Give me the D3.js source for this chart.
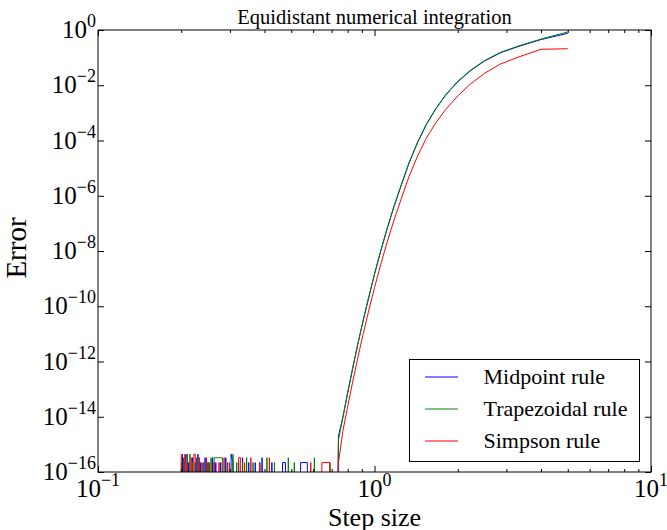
<!DOCTYPE html>
<html>
<head>
<meta charset="utf-8">
<script src="https://cdn.jsdelivr.net/npm/d3@7"></script>
<style>
  body { margin: 0; background: #fff; }
  text { font-family: "Liberation Serif", "DejaVu Serif", serif; fill: #000; }
</style>
</head>
<body>
<svg id="chart" width="667" height="530"></svg>
<script>
// step sizes, from the coarsest noise floor (0.2) up to 5
const stepSizes = [
  0.2, 0.2020, 0.2041, 0.2062, 0.2083, 0.2105, 0.2128, 0.2151, 0.2174, 0.2198,
  0.2222, 0.2247, 0.2273, 0.2299, 0.2326, 0.2353, 0.2381, 0.2410, 0.2439, 0.2469,
  0.25, 0.2532, 0.2564, 0.2597, 0.2632, 0.2667, 0.2703, 0.2740, 0.2778, 0.2817,
  0.2857, 0.2899, 0.2941, 0.2985, 0.3030, 0.3077, 0.3125, 0.3175, 0.3226, 0.3279,
  0.3333, 0.3390, 0.3448, 0.3509, 0.3571, 0.3636, 0.3704, 0.3774, 0.3846, 0.3922,
  0.4, 0.4082, 0.4167, 0.4255, 0.4348, 0.4444, 0.4545, 0.4651, 0.4762, 0.4878,
  0.5, 0.5128, 0.5263, 0.5405, 0.5556, 0.5714, 0.5882, 0.6061, 0.625, 0.6452,
  0.6667, 0.6897, 0.7143,
  0.7407, 0.7692, 0.8, 0.8333, 0.8696, 0.9091, 0.9524, 1.0, 1.0526, 1.1111,
  1.1765, 1.25, 1.3333, 1.4286, 1.5385, 1.6667, 1.8182, 2.0, 2.2222, 2.5,
  2.8571, 3.3333, 4.0, 5.0
];

const midpointErr = [
  0, 4.4e-16, 0, 2.2e-16, 4.4e-16, 0, 2.2e-16, 0, 0, 3.3e-16,
  0, 2.2e-16, 0, 4.4e-16, 0, 2.2e-16, 0, 0, 3.3e-16, 0,
  2.2e-16, 0, 0, 3.3e-16, 0, 2.2e-16, 0, 0, 2.2e-16, 0,
  0, 3.3e-16, 0, 0, 4.4e-16, 2.2e-16, 0, 0, 2.2e-16, 0,
  3.3e-16, 0, 0, 2.2e-16, 0, 0, 2.2e-16, 0, 0, 3.3e-16,
  0, 0, 0, 2.2e-16, 0, 0, 0, 2.2e-16, 2.2e-16, 0,
  0, 0, 0, 2.2e-16, 2.2e-16, 2.2e-16, 0, 0, 0, 0,
  0, 0, 0,
  2.0e-15, 9.9e-15, 7.4e-14, 5.4e-13, 4.1e-12, 2.9e-11, 2.0e-10, 1.44e-9, 9.7e-9, 6.4e-8,
  4.1e-7, 2.4e-6, 1.53e-5, 8.1e-5, 3.7e-4, 1.41e-3, 4.65e-3, 1.34e-2, 3.37e-2, 7.55e-2,
  0.150, 0.258, 0.45, 0.76
];

const trapezoidErr = [
  2.2e-16, 0, 3.3e-16, 0, 0, 4.4e-16, 0, 4.4e-16, 0, 2.2e-16,
  0, 0, 3.3e-16, 0, 2.2e-16, 0, 0, 2.2e-16, 0, 0,
  2.2e-16, 0, 3.3e-16, 0, 3.3e-16, 3.3e-16, 3.3e-16, 3.3e-16, 3.3e-16, 3.3e-16,
  0, 0, 2.2e-16, 0, 0, 4.4e-16, 0, 2.2e-16, 0, 0,
  2.2e-16, 0, 3.3e-16, 0, 0, 2.2e-16, 0, 0, 2.2e-16, 0,
  0, 3.3e-16, 0, 0, 2.2e-16, 0, 0, 0, 0, 3.3e-16,
  0, 2.2e-16, 0, 0, 0, 0, 0, 3.3e-16, 0, 0,
  0, 2.2e-16, 0,
  1.45e-15, 1.02e-14, 7.6e-14, 5.6e-13, 4.2e-12, 3.0e-11, 2.1e-10, 1.48e-9, 1.0e-8, 6.6e-8,
  4.2e-7, 2.5e-6, 1.58e-5, 8.3e-5, 3.8e-4, 1.45e-3, 4.8e-3, 1.38e-2, 3.47e-2, 7.8e-2,
  0.155, 0.269, 0.468, 0.85
];

const simpsonErr = [
  4.4e-16, 0, 0, 4.4e-16, 0, 2.2e-16, 0, 0, 3.3e-16, 0,
  4.4e-16, 4.4e-16, 0, 0, 3.3e-16, 0, 2.2e-16, 0, 0, 3.3e-16,
  0, 2.2e-16, 0, 0, 2.2e-16, 0, 0, 2.2e-16, 0, 0,
  3.3e-16, 0, 0, 2.2e-16, 0, 0, 0, 0, 3.3e-16, 3.3e-16,
  0, 2.2e-16, 0, 0, 3.3e-16, 0, 0, 0, 2.2e-16, 0,
  0, 0, 3.3e-16, 0, 0, 0, 0, 0, 0, 0,
  0, 0, 0, 0, 0, 0, 2.2e-16, 0, 0, 2.2e-16,
  2.2e-16, 2.2e-16, 0,
  2.2e-16, 3.2e-15, 2.4e-14, 1.78e-13, 1.32e-12, 9.5e-12, 6.8e-11, 4.7e-10, 3.2e-9, 2.1e-8,
  1.32e-7, 7.9e-7, 5.0e-6, 2.6e-5, 1.2e-4, 4.4e-4, 1.41e-3, 4.1e-3, 1.1e-2, 2.7e-2,
  5.9e-2, 0.107, 0.20, 0.21
];

const seriesNames = ["Midpoint rule", "Trapezoidal rule", "Simpson rule"];
const seriesColors = ["#0000ff", "#008000", "#ff0000"];
const seriesValues = [midpointErr, trapezoidErr, simpsonErr];

const xTickExps = [-1, 0, 1];
const yTickExps = [0, -2, -4, -6, -8, -10, -12, -14, -16];
const xMinorTicks = [0.2, 0.3, 0.4, 0.5, 0.6, 0.7, 0.8, 0.9, 2, 3, 4, 5, 6, 7, 8, 9];

const margin = {top: 30, right: 16, bottom: 58, left: 98};
const width = 667 - margin.left - margin.right;
const height = 530 - margin.top - margin.bottom;

const svg = d3.select("#chart");
const g = svg.append("g").attr("transform", `translate(${margin.left},${margin.top})`);

const x = d3.scaleLog().domain([0.1, 10]).range([0, width]);
const y = d3.scaleLog().domain([1e-16, 1]).range([height, 0]);

g.append("clipPath").attr("id", "plotClip")
  .append("rect").attr("width", width).attr("height", height);

const floor = 1e-30;  // zero error has no place on a log axis; send it off the bottom
const line = d3.line()
  .x(d => x(d[0]))
  .y(d => y(Math.max(d[1], floor)));

seriesValues.forEach((vals, i) => {
  g.append("path")
    .datum(stepSizes.map((s, j) => [s, vals[j]]))
    .attr("clip-path", "url(#plotClip)")
    .attr("fill", "none")
    .attr("stroke", seriesColors[i])
    .attr("stroke-width", 1)
    .attr("d", line);
});

// ticks point inward, on all four sides
function tickAxis(axis, values, size) {
  return axis.tickValues(values).tickSizeInner(-size).tickSizeOuter(0).tickFormat(() => "");
}
const xMajor = xTickExps.map(e => Math.pow(10, e));
const yMajor = yTickExps.map(e => Math.pow(10, e));

const axes = [
  [d3.axisBottom(x), xMajor, 6, `translate(0,${height})`],
  [d3.axisBottom(x), xMinorTicks, 3, `translate(0,${height})`],
  [d3.axisTop(x), xMajor, 6, "translate(0,0)"],
  [d3.axisTop(x), xMinorTicks, 3, "translate(0,0)"],
  [d3.axisLeft(y), yMajor, 6, "translate(0,0)"],
  [d3.axisRight(y), yMajor, 6, `translate(${width},0)`]
];
axes.forEach(([ax, vals, size, tr]) => {
  const a = g.append("g").attr("transform", tr).call(tickAxis(ax, vals, size));
  a.select(".domain").remove();
  a.selectAll(".tick line").attr("stroke", "#000").attr("stroke-width", 1);
});

g.append("rect")
  .attr("width", width).attr("height", height)
  .attr("fill", "none").attr("stroke", "#000").attr("stroke-width", 1);

function powerLabel(sel, exp) {
  sel.append("tspan").text("10");
  sel.append("tspan")
    .attr("dy", -11)
    .attr("font-size", 18)
    .text(exp < 0 ? "\u2212" + (-exp) : String(exp));
}

xTickExps.forEach(e => {
  g.append("text")
    .attr("x", x(Math.pow(10, e)))
    .attr("y", height + 24.5)
    .attr("text-anchor", "middle")
    .attr("font-size", 25)
    .call(powerLabel, e);
});

yTickExps.forEach(e => {
  g.append("text")
    .attr("x", -2)
    .attr("y", y(Math.pow(10, e)) + 8)
    .attr("text-anchor", "end")
    .attr("font-size", 25)
    .call(powerLabel, e);
});

g.append("text")
  .attr("x", width / 2).attr("y", -6)
  .attr("text-anchor", "middle")
  .attr("font-size", 20.5)
  .text("Equidistant numerical integration");

g.append("text")
  .attr("x", width / 2).attr("y", height + 53.5)
  .attr("text-anchor", "middle")
  .attr("font-size", 26)
  .text("Step size");

g.append("text")
  .attr("transform", `translate(${-72},${height / 2 - 3}) rotate(-90)`)
  .attr("text-anchor", "middle")
  .attr("font-size", 29)
  .text("Error");

// legend
const legend = g.append("g").attr("transform", `translate(${width - 241.5},${height - 112.5})`);
legend.append("rect")
  .attr("width", 230).attr("height", 102)
  .attr("fill", "#fff").attr("stroke", "#000").attr("stroke-width", 1);
seriesNames.forEach((name, i) => {
  const ly = 17.5 + i * 32;
  legend.append("line")
    .attr("x1", 15.5).attr("x2", 48.5).attr("y1", ly).attr("y2", ly)
    .attr("stroke", seriesColors[i]).attr("stroke-width", 1);
  legend.append("text")
    .attr("x", 74).attr("y", ly + 7)
    .attr("font-size", 22)
    .text(name);
});
</script>
</body>
</html>
